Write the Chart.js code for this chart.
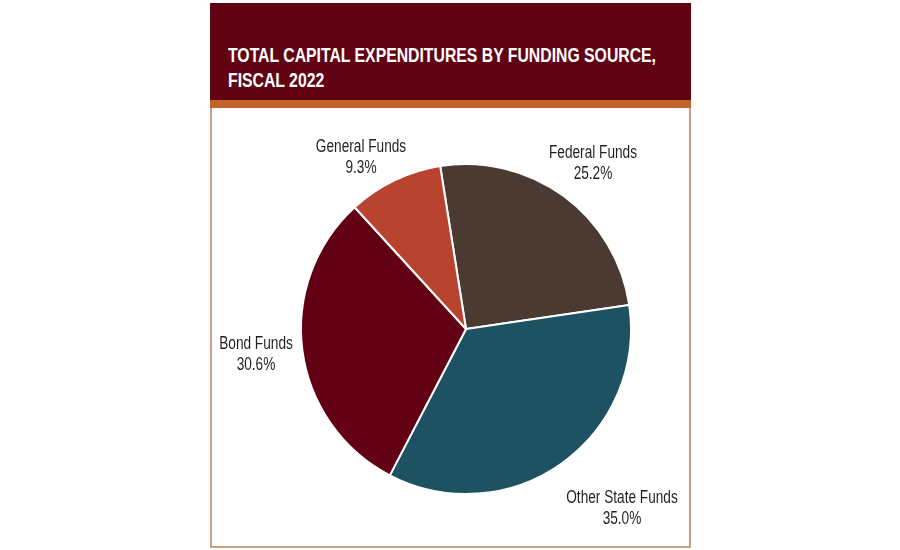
<!DOCTYPE html>
<html>
<head>
<meta charset="utf-8">
<script src="https://cdn.jsdelivr.net/npm/chart.js@4.4.1/dist/chart.umd.min.js"></script>
<style>
  body { margin: 0; background: #fff; font-family: 'Liberation Sans', Arial, sans-serif; }
  #panel { position: absolute; left: 210px; top: 3px; width: 481px; height: 545px; }
  #head { position: relative; background: #600414; height: 97px; border-bottom: 8px solid #c0642c; }
  #head h1 { position: absolute; left: 18px; top: 40px; margin: 0; color: #fff; font-size: 20px; line-height: 25px;
             font-weight: bold; white-space: nowrap; transform-origin: 0 0; }
  #box { position: absolute; left: 0; top: 105px; width: 477px; height: 438px; border: 2px solid #c9a083; border-top: none; }
</style>
</head>
<body>
<div id="panel">
  <div id="head"><h1 id="title">TOTAL CAPITAL EXPENDITURES BY FUNDING SOURCE,<br>FISCAL 2022</h1></div>
  <div id="box"><canvas id="pie" width="477" height="438"></canvas></div>
</div>
<script>
// funding sources, fiscal 2022 (percent of total)
const sources = ['Federal Funds', 'Other State Funds', 'Bond Funds', 'General Funds'];
const shares = [25.2, 35.0, 30.6, 9.3];
const sliceColors = ['#4a3a31', '#1e5263', '#620014', '#b8432f'];

// condensed look: squeeze the title to the width of the original
const title = document.getElementById('title');
title.style.transform = 'scaleX(' + (428 / title.getBoundingClientRect().width) + ')';

// where each label sits, relative to the pie centre (px)
const labelOffsets = [[127, -165], [156, 180], [-210, 26], [-105, -171]];
const squeeze = 0.78;

const outsideLabels = {
  id: 'outsideLabels',
  afterDraw(chart) {
    const ctx = chart.ctx;
    const arcs = chart.getDatasetMeta(0).data;
    ctx.save();
    ctx.fillStyle = '#231f20';
    ctx.font = '17.5px "Liberation Sans", Arial, sans-serif';
    ctx.textAlign = 'center';
    ctx.textBaseline = 'middle';
    arcs.forEach((arc, i) => {
      ctx.save();
      ctx.translate(arc.x + labelOffsets[i][0], arc.y + labelOffsets[i][1]);
      ctx.scale(squeeze, 1);
      ctx.fillText(sources[i], 0, -10.5);
      ctx.fillText(shares[i].toFixed(1) + '%', 0, 10.5);
      ctx.restore();
    });
    ctx.restore();
  }
};

new Chart(document.getElementById('pie'), {
  type: 'pie',
  data: {
    labels: sources,
    datasets: [{
      data: shares,
      backgroundColor: sliceColors,
      borderColor: '#fff',
      borderWidth: 2,
      hoverOffset: 0
    }]
  },
  options: {
    responsive: false,
    animation: false,
    rotation: -9,
    layout: { padding: { left: 47, right: 16, top: 55, bottom: 51 } },
    plugins: {
      legend: { display: false },
      tooltip: { enabled: false }
    }
  },
  plugins: [outsideLabels]
});
</script>
</body>
</html>
